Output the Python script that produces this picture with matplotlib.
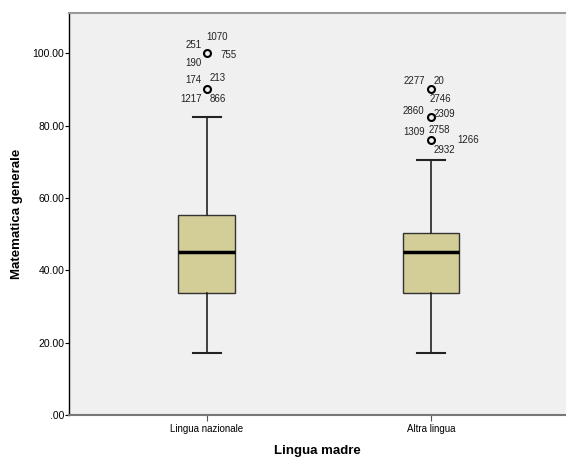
import numpy as np
import matplotlib
matplotlib.use("Agg")
import matplotlib.pyplot as plt

plt.rcParams['font.family'] = ['Liberation Sans', 'DejaVu Sans']

# dati
categorie = ['Lingua nazionale', 'Altra lingua']
whisker_basso = [17.2, 17.2]
q1 = [33.9, 33.9]
mediana = [45.2, 45.2]
q3 = [55.2, 50.4]
whisker_alto = [82.5, 70.4]
outlier_valori = [[100.0, 90.0], [90.0, 82.5, 76.0]]
outlier_etichette = [
    [['1070', '251', '755', '190'], ['174', '213', '1217', '866']],
    [['2277', '20', '2746'], ['2860', '2309'], ['1309', '2758', '1266', '2932']],
]
# posizione delle etichette (pixel) rispetto al punto: dx, dy, allineamento
offset_etichette = [
    [[(0, 16, 'left'), (-5, 8, 'right'), (14, -2, 'left'), (-5, -10, 'right')],
     [(-5, 9, 'right'), (3, 11, 'left'), (-5, -10, 'right'), (3, -10, 'left')]],
    [[(-6, 8, 'right'), (3, 8, 'left'), (-1, -10, 'left')],
     [(-7, 6, 'right'), (3, 3, 'left')],
     [(-6, 8, 'right'), (-2, 10, 'left'), (26, 0, 'left'), (3, -10, 'left')]],
]

fig = plt.figure(figsize=(5.66, 4.58), dpi=100)
ax = fig.add_axes([69 / 566, (458 - 415.4) / 458, 497 / 566, (415.4 - 13.3) / 458])
ax.set_facecolor('#f0f0f0')

stats = []
for i in range(len(categorie)):
    stats.append({'whislo': whisker_basso[i], 'q1': q1[i], 'med': mediana[i],
                  'q3': q3[i], 'whishi': whisker_alto[i],
                  'fliers': outlier_valori[i], 'label': categorie[i]})

pos = np.arange(len(categorie))
ax.bxp(stats, positions=pos, widths=0.253, patch_artist=True,
       boxprops=dict(facecolor='#d3ce97', edgecolor='#333333', linewidth=1.0),
       medianprops=dict(color='black', linewidth=2.5),
       whiskerprops=dict(color='#222222', linewidth=1.2),
       capprops=dict(color='#222222', linewidth=1.5),
       capwidths=0.125,
       flierprops=dict(marker='o', markerfacecolor='none', markeredgecolor='black',
                       markersize=5, markeredgewidth=1.5))

for i in range(len(categorie)):
    for j, v in enumerate(outlier_valori[i]):
        for lab, (dx, dy, ha) in zip(outlier_etichette[i][j], offset_etichette[i][j]):
            ax.annotate(lab, (pos[i], v), xytext=(dx, dy), textcoords='offset pixels',
                        ha=ha, va='center', fontsize=7, color='#222222')

ax.set_xlim(-0.614, 1.602)
ax.set_ylim(0, 111)
ax.set_xticks(pos)
ax.set_xticklabels(categorie, fontsize=7)
ax.set_yticks(np.arange(0, 101, 20))
ax.set_yticklabels(['.00' if t == 0 else f'{t:.2f}' for t in np.arange(0, 101, 20)], fontsize=7.5)
ax.tick_params(axis='y', length=3, width=0.8, pad=0.5)
ax.tick_params(axis='x', length=4, width=0.8, color='#555555', pad=2)

ax.spines['right'].set_visible(False)
ax.spines['top'].set_color('#999999')
ax.spines['top'].set_linewidth(1.5)
ax.spines['bottom'].set_color('#777777')
ax.spines['bottom'].set_linewidth(1.5)
ax.spines['left'].set_color('black')
ax.spines['left'].set_linewidth(1.0)

fig.text(317.5 / 566, 1 - 451 / 458, 'Lingua madre', ha='center', va='center',
         fontsize=9.5, fontweight='bold')
fig.text(17 / 566, 1 - 214 / 458, 'Matematica generale', ha='center', va='center',
         rotation=90, fontsize=9.5, fontweight='bold')

fig.savefig('out.png', dpi=100)
